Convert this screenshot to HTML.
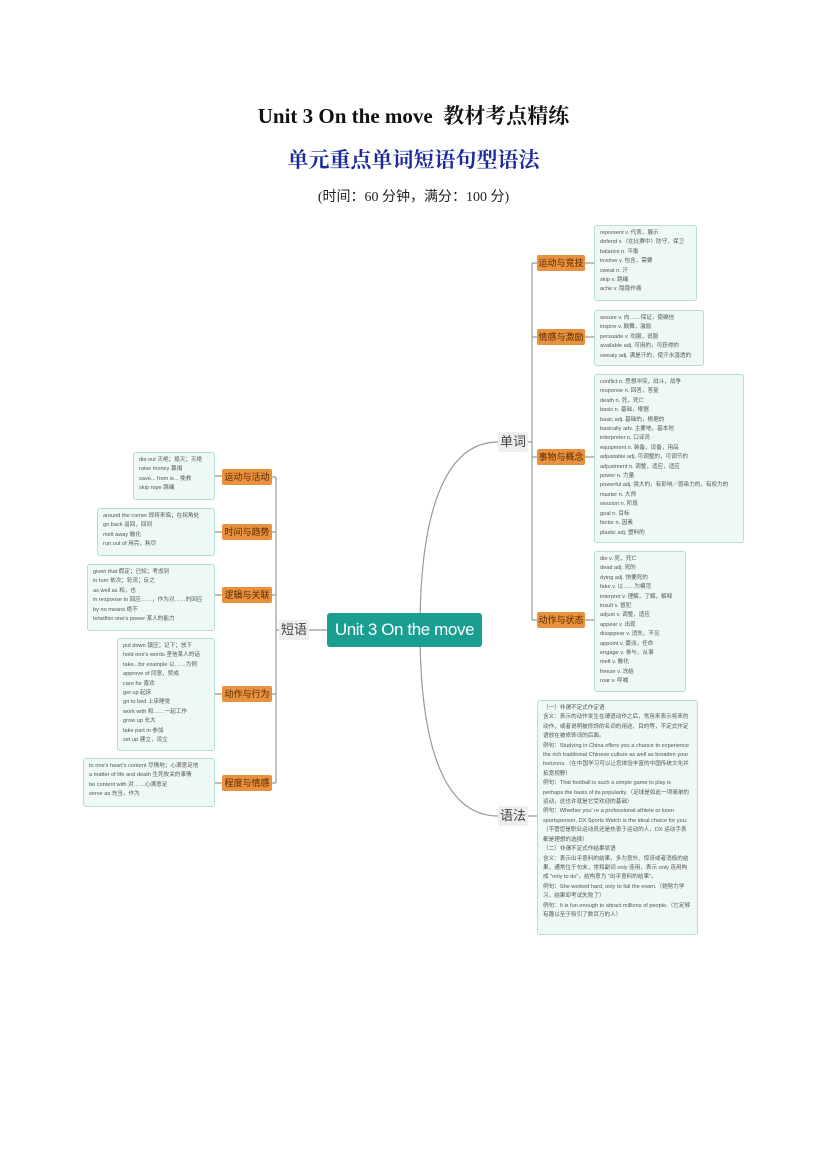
<!DOCTYPE html>
<html><head><meta charset="utf-8"><style>
body{margin:0;width:827px;height:1169px;background:#fff;position:relative;overflow:hidden;font-family:"Liberation Sans","Noto Sans CJK SC",sans-serif}
.a{position:absolute}
.t1{left:0;width:827px;top:100px;text-align:center;font:bold 21px "Liberation Serif","Noto Serif CJK SC",serif;color:#111}
.t2{left:0;width:827px;top:144px;text-align:center;font:bold 21px "Liberation Serif","Noto Serif CJK SC",serif;color:#1c2a9c}
.t3{left:0;width:827px;top:186px;text-align:center;font:14px "Liberation Serif","Noto Sans CJK SC",serif;color:#222}
.o{position:absolute;background:#e8913e;color:#5a2a00;font-size:9px;text-align:center;line-height:16px;height:16px;border-radius:2px}
.g{position:absolute;background:#eeeeee;color:#444;font-size:13px;text-align:center;line-height:20px;height:20px;width:30px;border-radius:2px}
.b{position:absolute;background:#eef8f5;border:1px solid #b7dcd3;border-radius:3px;font-size:5.6px;line-height:9.4px;color:#555;padding:3px 5px;box-sizing:border-box;white-space:nowrap;overflow:hidden}
</style></head><body>
<div class="a t1">Unit 3 On the move&nbsp; 教材考点精练</div>
<div class="a t2">单元重点单词短语句型语法</div>
<div class="a t3">(时间：60 分钟，满分：100 分)</div>

<svg class="a" style="left:0;top:0" width="827" height="1169">
<g fill="none" stroke="#999" stroke-width="1.2">
<path d="M309 630 H327"/>
<path d="M276 477 V783"/>
<path d="M272 477 H276 M272 532 H276 M272 595 H276 M272 694 H276 M272 783 H276 M276 630 H279"/>
<path d="M215 476 H222 M215 532 H222 M215 595 H222 M215 694 H222 M215 783 H222"/>
<path d="M420 630 C420 500 450 442 498 442"/>
<path d="M420 630 C420 760 450 816 498 816"/>
<path d="M527 442 H532 M532 263 V620 M532 263 H537 M532 337 H537 M532 457 H537 M532 620 H537"/>
<path d="M585 263 H594 M585 337 H594 M585 457 H594 M585 620 H594 M527 816 H537"/>
</g></svg>

<div class="a" style="left:327px;top:613px;width:155px;height:34px;background:#1a9e8f;border-radius:3px;color:#fff;font-size:17px;letter-spacing:-0.4px;white-space:nowrap;line-height:34px;text-align:center">Unit 3 On the move</div>
<div class="g" style="left:279px;top:620px">短语</div>
<div class="g" style="left:498px;top:432px">单词</div>
<div class="g" style="left:498px;top:806px">语法</div>

<div class="o" style="left:222px;top:469px;width:50px">运动与活动</div>
<div class="o" style="left:222px;top:524px;width:50px">时间与趋势</div>
<div class="o" style="left:222px;top:587px;width:50px">逻辑与关联</div>
<div class="o" style="left:222px;top:686px;width:50px">动作与行为</div>
<div class="o" style="left:222px;top:775px;width:50px">程度与情感</div>

<div class="o" style="left:537px;top:255px;width:48px">运动与竞技</div>
<div class="o" style="left:537px;top:329px;width:48px">情感与激励</div>
<div class="o" style="left:537px;top:449px;width:48px">事物与概念</div>
<div class="o" style="left:537px;top:612px;width:48px">动作与状态</div>

<div class="b" style="left:133px;top:452px;width:82px;height:48px">die out 灭绝；熄灭；灭绝<br>raise money 募捐<br>save... from is... 挽救<br>skip rope 跳绳</div>
<div class="b" style="left:97px;top:508px;width:118px;height:48px">around the corner 即将来临；在拐角处<br>go back 返回，回到<br>melt away 融化<br>run out of 用完，耗尽</div>
<div class="b" style="left:87px;top:564px;width:128px;height:67px">given that 假定；已知；考虑到<br>in turn 依次；轮流；反之<br>as well as 和，也<br>in response to 回应……，作为对……的回应<br>by no means 绝不<br>to/within one's power 某人的能力</div>
<div class="b" style="left:117px;top:638px;width:98px;height:113px">put down 镇压；记下；放下<br>hold one's words 坚信某人的话<br>take...for example 以……为例<br>approve of 同意，赞成<br>care for 喜欢<br>get up 起床<br>go to bed 上床睡觉<br>work with 和……一起工作<br>grow up 长大<br>take part in 参加<br>set up 建立，设立</div>
<div class="b" style="left:83px;top:758px;width:132px;height:49px">to one's heart's content 尽情地；心满意足地<br>a matter of life and death 生死攸关的事情<br>be content with 对……心满意足<br>serve as 充当，作为</div>

<div class="b" style="left:594px;top:225px;width:103px;height:76px">represent v. 代表，展示<br>defend v.（在比赛中）防守，保卫<br>balance n. 平衡<br>involve v. 包含，需要<br>sweat n. 汗<br>skip v. 跳绳<br>ache v. 隐隐作痛</div>
<div class="b" style="left:594px;top:310px;width:110px;height:56px">assure v. 向……保证，使确信<br>inspire v. 鼓舞，激励<br>persuade v. 劝服，说服<br>available adj. 可用的，可获得的<br>sweaty adj. 满是汗的，使汗水湿透的</div>
<div class="b" style="left:594px;top:374px;width:150px;height:169px">conflict n. 思想冲突，战斗，战争<br>response n. 回答，答复<br>death n. 死，死亡<br>basis n. 基础，根据<br>basic adj. 基础的，根据的<br>basically adv. 主要地，基本地<br>interpreter n. 口译员<br>equipment n. 装备，设备，用品<br>adjustable adj. 可调整的，可调节的<br>adjustment n. 调整，适应，适应<br>power n. 力量<br>powerful adj. 强大的，有影响／感染力的，有权力的<br>master n. 大师<br>session n. 阶段<br>goal n. 目标<br>factor n. 因素<br>plastic adj. 塑料的</div>
<div class="b" style="left:594px;top:551px;width:92px;height:141px">die v. 死，死亡<br>dead adj. 死的<br>dying adj. 快要死的<br>fake v. 以……为模范<br>interpret v. 理解，了解，解释<br>insult v. 冒犯<br>adjust v. 调整，适应<br>appear v. 出现<br>disappear v. 消失，不见<br>appoint v. 委派，任命<br>engage v. 参与，从事<br>melt v. 融化<br>freeze v. 冻结<br>roar v. 呼喊</div>
<div class="b" style="left:537px;top:700px;width:161px;height:235px;white-space:normal">（一）非谓不定式作定语<br>含义：表示的动作发生在谓语动作之后，常用来表示将来的动作，或者说明被修饰的名词的用途、目的等，不定式作定语放在被修饰词的后面。<br>例句：Studying in China offers you a chance to experience the rich traditional Chinese culture as well as broaden your horizons.（在中国学习可以让您体验丰富的中国传统文化并拓宽视野）<br>例句：That football is such a simple game to play is perhaps the basis of its popularity.（足球是如此一项简单的运动，这也许就是它受欢迎的基础）<br>例句：Whether you' re a professional athlete or keen sportsperson, DX Sports Watch is the ideal choice for you.（不管您是职业运动员还是热衷于运动的人，DX 运动手表都是理想的选择）<br>（二）非谓不定式作结果状语<br>含义：表示出乎意料的结果，多为意外、惊讶或者消极的结果，通常位于句末，常和副词 only 连用，表示 only 连用构成 "only to do"，结构意为 "出乎意料的结果"。<br>例句：She worked hard, only to fail the exam.（她努力学习，结果却考试失败了）<br>例句：It is fun enough to attract millions of people.（它足够有趣以至于吸引了数百万的人）</div>
</body></html>
